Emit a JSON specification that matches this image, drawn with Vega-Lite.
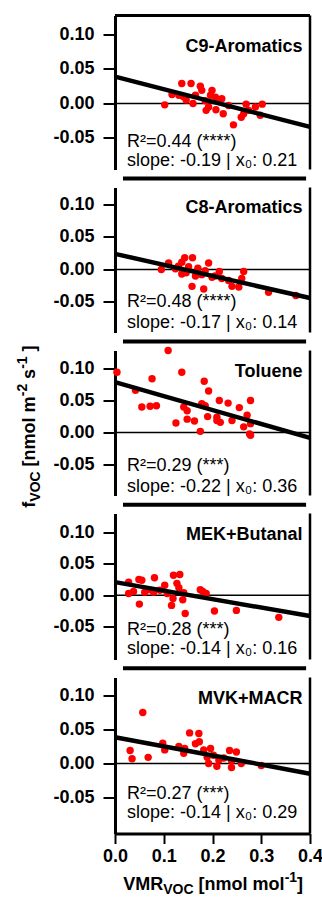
{
  "$schema": "https://vega.github.io/schema/vega-lite/v6.json",
  "padding": {"left": 16, "top": 13.5, "right": 0, "bottom": 0},
  "bounds": "flush",
  "spacing": 18,
  "config": {
    "view": {"stroke": null},
    "axis": {"grid": false, "domainColor": "black", "tickColor": "black", "labelColor": "black", "titleColor": "black", "labelFont": "Liberation Sans", "titleFont": "Liberation Sans", "labelFontSize": 18, "labelFontWeight": "bold", "titleFontSize": 18, "titleFontWeight": "bold"},
    "text": {"font": "Liberation Sans", "fontSize": 18, "color": "black"}
  },
  "datasets": {
    "one": [{}],
    "points": [
      {"panel":"C9","vmr":0.102,"f":-0.002},{"panel":"C9","vmr":0.117,"f":0.013},{"panel":"C9","vmr":0.131,"f":0.012},{"panel":"C9","vmr":0.137,"f":0.029},{"panel":"C9","vmr":0.146,"f":0.005},{"panel":"C9","vmr":0.156,"f":0.029},{"panel":"C9","vmr":0.160,"f":0.000},{"panel":"C9","vmr":0.175,"f":0.025},{"panel":"C9","vmr":0.178,"f":0.019},{"panel":"C9","vmr":0.185,"f":0.004},{"panel":"C9","vmr":0.187,"f":-0.010},{"panel":"C9","vmr":0.192,"f":-0.005},{"panel":"C9","vmr":0.196,"f":0.012},{"panel":"C9","vmr":0.199,"f":0.019},{"panel":"C9","vmr":0.206,"f":0.009},{"panel":"C9","vmr":0.207,"f":-0.009},{"panel":"C9","vmr":0.213,"f":0.004},{"panel":"C9","vmr":0.219,"f":0.007},{"panel":"C9","vmr":0.222,"f":-0.015},{"panel":"C9","vmr":0.233,"f":-0.003},{"panel":"C9","vmr":0.243,"f":-0.031},{"panel":"C9","vmr":0.259,"f":-0.020},{"panel":"C9","vmr":0.264,"f":-0.015},{"panel":"C9","vmr":0.269,"f":-0.001},{"panel":"C9","vmr":0.274,"f":-0.010},{"panel":"C9","vmr":0.288,"f":-0.005},{"panel":"C9","vmr":0.298,"f":-0.017},{"panel":"C9","vmr":0.302,"f":-0.001},{"panel":"C9","vmr":0.165,"f":0.012},{"panel":"C9","vmr":0.140,"f":0.010},
      {"panel":"C8","vmr":0.095,"f":0.000},{"panel":"C8","vmr":0.110,"f":0.010},{"panel":"C8","vmr":0.124,"f":0.001},{"panel":"C8","vmr":0.137,"f":0.011},{"panel":"C8","vmr":0.143,"f":0.018},{"panel":"C8","vmr":0.159,"f":0.018},{"panel":"C8","vmr":0.151,"f":0.004},{"panel":"C8","vmr":0.137,"f":-0.007},{"panel":"C8","vmr":0.158,"f":-0.026},{"panel":"C8","vmr":0.182,"f":-0.030},{"panel":"C8","vmr":0.192,"f":0.010},{"panel":"C8","vmr":0.185,"f":-0.002},{"panel":"C8","vmr":0.178,"f":-0.008},{"panel":"C8","vmr":0.199,"f":-0.012},{"panel":"C8","vmr":0.214,"f":-0.003},{"panel":"C8","vmr":0.219,"f":-0.014},{"panel":"C8","vmr":0.233,"f":-0.017},{"panel":"C8","vmr":0.240,"f":-0.026},{"panel":"C8","vmr":0.254,"f":-0.027},{"panel":"C8","vmr":0.260,"f":-0.014},{"panel":"C8","vmr":0.264,"f":-0.003},{"panel":"C8","vmr":0.315,"f":-0.035},{"panel":"C8","vmr":0.371,"f":-0.040},{"panel":"C8","vmr":0.130,"f":0.005},{"panel":"C8","vmr":0.146,"f":-0.005},{"panel":"C8","vmr":0.165,"f":-0.010},{"panel":"C8","vmr":0.205,"f":-0.010},{"panel":"C8","vmr":0.170,"f":0.002},
      {"panel":"TOL","vmr":0.004,"f":0.094},{"panel":"TOL","vmr":0.042,"f":0.066},{"panel":"TOL","vmr":0.055,"f":0.040},{"panel":"TOL","vmr":0.072,"f":0.041},{"panel":"TOL","vmr":0.076,"f":0.084},{"panel":"TOL","vmr":0.085,"f":0.042},{"panel":"TOL","vmr":0.109,"f":0.128},{"panel":"TOL","vmr":0.125,"f":0.015},{"panel":"TOL","vmr":0.137,"f":0.094},{"panel":"TOL","vmr":0.141,"f":0.040},{"panel":"TOL","vmr":0.148,"f":0.034},{"panel":"TOL","vmr":0.148,"f":0.021},{"panel":"TOL","vmr":0.163,"f":0.018},{"panel":"TOL","vmr":0.175,"f":0.002},{"panel":"TOL","vmr":0.178,"f":0.045},{"panel":"TOL","vmr":0.183,"f":0.080},{"panel":"TOL","vmr":0.185,"f":0.042},{"panel":"TOL","vmr":0.192,"f":0.065},{"panel":"TOL","vmr":0.190,"f":0.025},{"panel":"TOL","vmr":0.209,"f":0.024},{"panel":"TOL","vmr":0.209,"f":0.019},{"panel":"TOL","vmr":0.214,"f":0.050},{"panel":"TOL","vmr":0.216,"f":0.016},{"panel":"TOL","vmr":0.232,"f":0.046},{"panel":"TOL","vmr":0.240,"f":0.019},{"panel":"TOL","vmr":0.255,"f":0.039},{"panel":"TOL","vmr":0.264,"f":0.009},{"panel":"TOL","vmr":0.271,"f":0.027},{"panel":"TOL","vmr":0.278,"f":0.050},{"panel":"TOL","vmr":0.278,"f":0.014},{"panel":"TOL","vmr":0.276,"f":-0.002},{"panel":"TOL","vmr":0.278,"f":-0.004},
      {"panel":"MEK","vmr":0.028,"f":0.021},{"panel":"MEK","vmr":0.028,"f":0.003},{"panel":"MEK","vmr":0.038,"f":0.006},{"panel":"MEK","vmr":0.050,"f":-0.014},{"panel":"MEK","vmr":0.049,"f":0.025},{"panel":"MEK","vmr":0.055,"f":0.024},{"panel":"MEK","vmr":0.061,"f":0.005},{"panel":"MEK","vmr":0.069,"f":0.009},{"panel":"MEK","vmr":0.079,"f":0.005},{"panel":"MEK","vmr":0.081,"f":0.028},{"panel":"MEK","vmr":0.092,"f":0.008},{"panel":"MEK","vmr":0.102,"f":0.016},{"panel":"MEK","vmr":0.107,"f":0.003},{"panel":"MEK","vmr":0.116,"f":-0.016},{"panel":"MEK","vmr":0.119,"f":-0.005},{"panel":"MEK","vmr":0.120,"f":0.032},{"panel":"MEK","vmr":0.133,"f":0.033},{"panel":"MEK","vmr":0.127,"f":0.019},{"panel":"MEK","vmr":0.131,"f":0.012},{"panel":"MEK","vmr":0.141,"f":0.004},{"panel":"MEK","vmr":0.139,"f":-0.007},{"panel":"MEK","vmr":0.144,"f":-0.029},{"panel":"MEK","vmr":0.175,"f":0.009},{"panel":"MEK","vmr":0.180,"f":0.006},{"panel":"MEK","vmr":0.187,"f":0.003},{"panel":"MEK","vmr":0.204,"f":-0.025},{"panel":"MEK","vmr":0.249,"f":-0.024},{"panel":"MEK","vmr":0.336,"f":-0.035},
      {"panel":"MVK","vmr":0.031,"f":0.019},{"panel":"MVK","vmr":0.035,"f":0.007},{"panel":"MVK","vmr":0.057,"f":0.075},{"panel":"MVK","vmr":0.068,"f":0.009},{"panel":"MVK","vmr":0.098,"f":0.030},{"panel":"MVK","vmr":0.102,"f":0.020},{"panel":"MVK","vmr":0.131,"f":0.025},{"panel":"MVK","vmr":0.141,"f":0.015},{"panel":"MVK","vmr":0.143,"f":0.022},{"panel":"MVK","vmr":0.153,"f":0.045},{"panel":"MVK","vmr":0.165,"f":0.029},{"panel":"MVK","vmr":0.172,"f":0.044},{"panel":"MVK","vmr":0.173,"f":0.032},{"panel":"MVK","vmr":0.182,"f":0.020},{"panel":"MVK","vmr":0.196,"f":0.022},{"panel":"MVK","vmr":0.189,"f":0.009},{"panel":"MVK","vmr":0.192,"f":0.000},{"panel":"MVK","vmr":0.202,"f":0.012},{"panel":"MVK","vmr":0.209,"f":-0.004},{"panel":"MVK","vmr":0.213,"f":0.005},{"panel":"MVK","vmr":0.223,"f":0.008},{"panel":"MVK","vmr":0.235,"f":0.019},{"panel":"MVK","vmr":0.239,"f":-0.006},{"panel":"MVK","vmr":0.239,"f":0.004},{"panel":"MVK","vmr":0.249,"f":0.017},{"panel":"MVK","vmr":0.259,"f":0.000},{"panel":"MVK","vmr":0.300,"f":-0.003}
    ],
    "fits": [
      {"panel":"C9","vmr":0,"f":0.039},{"panel":"C9","vmr":0.4,"f":-0.034},
      {"panel":"C8","vmr":0,"f":0.024},{"panel":"C8","vmr":0.4,"f":-0.044},
      {"panel":"TOL","vmr":0,"f":0.0786},{"panel":"TOL","vmr":0.4,"f":-0.0083},
      {"panel":"MEK","vmr":0,"f":0.021},{"panel":"MEK","vmr":0.4,"f":-0.033},
      {"panel":"MVK","vmr":0,"f":0.0387},{"panel":"MVK","vmr":0.4,"f":-0.015}
    ],
    "labels": [
      {"panel":"C9","name":"C9-Aromatics","r2":"R²=0.44 (****)","slope":"slope: -0.19 | x₀: 0.21"},
      {"panel":"C8","name":"C8-Aromatics","r2":"R²=0.48 (****)","slope":"slope: -0.17 | x₀: 0.14"},
      {"panel":"TOL","name":"Toluene","r2":"R²=0.29 (***)","slope":"slope: -0.22 | x₀: 0.36"},
      {"panel":"MEK","name":"MEK+Butanal","r2":"R²=0.28 (***)","slope":"slope: -0.14 | x₀: 0.16"},
      {"panel":"MVK","name":"MVK+MACR","r2":"R²=0.27 (***)","slope":"slope: -0.14 | x₀: 0.29"}
    ],
    "ytitle": [
      {"t":"f","k":"main"},{"t":"VOC","k":"sub"},{"t":"[nmol m","k":"main2"},{"t":"-2","k":"sup1"},{"t":"s","k":"main3"},{"t":"-1","k":"sup2"},{"t":"]","k":"main4"}
    ],
    "xtitle": [
      {"t":"VMR","k":"main"},{"t":"VOC","k":"sub"},{"t":"[nmol mol","k":"main2"},{"t":"-1","k":"sup1"},{"t":"]","k":"main3"}
    ]
  },
  "vconcat": [
    {
      "width": 195, "height": 154,
      "layer": [
        {"data": {"name": "one"}, "mark": {"type": "rule", "color": "black", "strokeWidth": 1.5, "clip": false}, "encoding": {"y": {"datum": 0, "type": "quantitative", "scale": {"domain": [-0.0957, 0.1275]}, "axis": {"orient": "left", "values": [-0.05, 0, 0.05, 0.1], "format": ".2f", "labelExpr": "replace(datum.label, '−', '-')", "tickSize": 12, "tickWidth": 2, "domainWidth": 3, "labelPadding": 9, "title": null}}}},
        {"data": {"name": "one"}, "mark": {"type": "rule", "color": "black", "strokeWidth": 3, "clip": false}, "encoding": {"y": {"datum": 0.1275, "type": "quantitative", "scale": {"domain": [-0.0957, 0.1275]}, "axis": {"orient": "left", "values": [-0.05, 0, 0.05, 0.1], "format": ".2f", "labelExpr": "replace(datum.label, '−', '-')", "tickSize": 12, "tickWidth": 2, "domainWidth": 3, "labelPadding": 9, "title": null}}}},
        {"data": {"name": "one"}, "mark": {"type": "rule", "color": "black", "strokeWidth": 2.5, "clip": false}, "encoding": {"x": {"datum": 0.4, "type": "quantitative", "scale": {"domain": [0, 0.4]}, "axis": null}}},
        {"data": {"name": "points"}, "transform": [{"filter": "datum.panel === 'C9'"}],
         "mark": {"type": "circle", "size": 55, "color": "#ff0000", "opacity": 1},
         "encoding": {
           "x": {"field": "vmr", "type": "quantitative", "scale": {"domain": [0, 0.4]}, "axis": null},
           "y": {"field": "f", "type": "quantitative", "scale": {"domain": [-0.0957, 0.1275]}, "axis": {"orient": "left", "values": [-0.05, 0, 0.05, 0.1], "format": ".2f", "labelExpr": "replace(datum.label, '−', '-')", "tickSize": 12, "tickWidth": 2, "domainWidth": 3, "labelPadding": 9, "title": null}}
         }},
        {"data": {"name": "fits"}, "transform": [{"filter": "datum.panel === 'C9'"}],
         "mark": {"type": "line", "color": "black", "strokeWidth": 4.5},
         "encoding": {
           "x": {"field": "vmr", "type": "quantitative", "scale": {"domain": [0, 0.4]}, "axis": null},
           "y": {"field": "f", "type": "quantitative", "scale": {"domain": [-0.0957, 0.1275]}, "axis": {"orient": "left", "values": [-0.05, 0, 0.05, 0.1], "format": ".2f", "labelExpr": "replace(datum.label, '−', '-')", "tickSize": 12, "tickWidth": 2, "domainWidth": 3, "labelPadding": 9, "title": null}}
         }},
        {"data": {"name": "labels"}, "transform": [{"filter": "datum.panel === 'C9'"}],
         "layer": [
           {"mark": {"type": "text", "align": "right", "baseline": "alphabetic", "fontWeight": "bold", "dx": -7.5},
            "encoding": {"x": {"datum": 0.4, "type": "quantitative", "scale": {"domain": [0, 0.4]}, "axis": null}, "y": {"datum": 0.0739, "type": "quantitative", "scale": {"domain": [-0.0957, 0.1275]}, "axis": {"orient": "left", "values": [-0.05, 0, 0.05, 0.1], "format": ".2f", "labelExpr": "replace(datum.label, '−', '-')", "tickSize": 12, "tickWidth": 2, "domainWidth": 3, "labelPadding": 9, "title": null}}, "text": {"field": "name"}}},
           {"mark": {"type": "text", "align": "left", "baseline": "alphabetic", "dx": 12},
            "encoding": {"x": {"datum": 0, "type": "quantitative", "scale": {"domain": [0, 0.4]}, "axis": null}, "y": {"datum": -0.0633, "type": "quantitative", "scale": {"domain": [-0.0957, 0.1275]}, "axis": {"orient": "left", "values": [-0.05, 0, 0.05, 0.1], "format": ".2f", "labelExpr": "replace(datum.label, '−', '-')", "tickSize": 12, "tickWidth": 2, "domainWidth": 3, "labelPadding": 9, "title": null}}, "text": {"field": "r2"}}},
           {"mark": {"type": "text", "align": "left", "baseline": "alphabetic", "dx": 12},
            "encoding": {"x": {"datum": 0, "type": "quantitative", "scale": {"domain": [0, 0.4]}, "axis": null}, "y": {"datum": -0.0909, "type": "quantitative", "scale": {"domain": [-0.0957, 0.1275]}, "axis": {"orient": "left", "values": [-0.05, 0, 0.05, 0.1], "format": ".2f", "labelExpr": "replace(datum.label, '−', '-')", "tickSize": 12, "tickWidth": 2, "domainWidth": 3, "labelPadding": 9, "title": null}}, "text": {"field": "slope"}}}
         ]}
      ]
    },
    {
      "width": 195, "height": 145,
      "layer": [
        {"data": {"name": "one"}, "mark": {"type": "rule", "color": "black", "strokeWidth": 1.5, "clip": false}, "encoding": {"y": {"datum": 0, "type": "quantitative", "scale": {"domain": [-0.097, 0.126]}, "axis": {"orient": "left", "values": [-0.05, 0, 0.05, 0.1], "format": ".2f", "labelExpr": "replace(datum.label, '−', '-')", "tickSize": 12, "tickWidth": 2, "domainWidth": 3, "labelPadding": 9, "title": null}}}},
        {"data": {"name": "one"}, "mark": {"type": "rule", "color": "black", "strokeWidth": 4, "clip": false}, "encoding": {"x": {"datum": 0.0164, "type": "quantitative", "scale": {"domain": [0, 0.4]}, "axis": null}, "x2": {"datum": 0.392}, "y": {"datum": 0.140, "type": "quantitative", "scale": {"domain": [-0.097, 0.126]}, "axis": {"orient": "left", "values": [-0.05, 0, 0.05, 0.1], "format": ".2f", "labelExpr": "replace(datum.label, '−', '-')", "tickSize": 12, "tickWidth": 2, "domainWidth": 3, "labelPadding": 9, "title": null}}}},
        {"data": {"name": "one"}, "mark": {"type": "rule", "color": "black", "strokeWidth": 2.5, "clip": false}, "encoding": {"x": {"datum": 0.4, "type": "quantitative", "scale": {"domain": [0, 0.4]}, "axis": null}}},
        {"data": {"name": "points"}, "transform": [{"filter": "datum.panel === 'C8'"}],
         "mark": {"type": "circle", "size": 55, "color": "#ff0000", "opacity": 1},
         "encoding": {
           "x": {"field": "vmr", "type": "quantitative", "scale": {"domain": [0, 0.4]}, "axis": null},
           "y": {"field": "f", "type": "quantitative", "scale": {"domain": [-0.097, 0.126]}, "axis": {"orient": "left", "values": [-0.05, 0, 0.05, 0.1], "format": ".2f", "labelExpr": "replace(datum.label, '−', '-')", "tickSize": 12, "tickWidth": 2, "domainWidth": 3, "labelPadding": 9, "title": null}}
         }},
        {"data": {"name": "fits"}, "transform": [{"filter": "datum.panel === 'C8'"}],
         "mark": {"type": "line", "color": "black", "strokeWidth": 4.5},
         "encoding": {
           "x": {"field": "vmr", "type": "quantitative", "scale": {"domain": [0, 0.4]}, "axis": null},
           "y": {"field": "f", "type": "quantitative", "scale": {"domain": [-0.097, 0.126]}, "axis": {"orient": "left", "values": [-0.05, 0, 0.05, 0.1], "format": ".2f", "labelExpr": "replace(datum.label, '−', '-')", "tickSize": 12, "tickWidth": 2, "domainWidth": 3, "labelPadding": 9, "title": null}}
         }},
        {"data": {"name": "labels"}, "transform": [{"filter": "datum.panel === 'C8'"}],
         "layer": [
           {"mark": {"type": "text", "align": "right", "baseline": "alphabetic", "fontWeight": "bold", "dx": -7.5},
            "encoding": {"x": {"datum": 0.4, "type": "quantitative", "scale": {"domain": [0, 0.4]}, "axis": null}, "y": {"datum": 0.0862, "type": "quantitative", "scale": {"domain": [-0.097, 0.126]}, "axis": {"orient": "left", "values": [-0.05, 0, 0.05, 0.1], "format": ".2f", "labelExpr": "replace(datum.label, '−', '-')", "tickSize": 12, "tickWidth": 2, "domainWidth": 3, "labelPadding": 9, "title": null}}, "text": {"field": "name"}}},
           {"mark": {"type": "text", "align": "left", "baseline": "alphabetic", "dx": 12},
            "encoding": {"x": {"datum": 0, "type": "quantitative", "scale": {"domain": [0, 0.4]}, "axis": null}, "y": {"datum": -0.0585, "type": "quantitative", "scale": {"domain": [-0.097, 0.126]}, "axis": {"orient": "left", "values": [-0.05, 0, 0.05, 0.1], "format": ".2f", "labelExpr": "replace(datum.label, '−', '-')", "tickSize": 12, "tickWidth": 2, "domainWidth": 3, "labelPadding": 9, "title": null}}, "text": {"field": "r2"}}},
           {"mark": {"type": "text", "align": "left", "baseline": "alphabetic", "dx": 12},
            "encoding": {"x": {"datum": 0, "type": "quantitative", "scale": {"domain": [0, 0.4]}, "axis": null}, "y": {"datum": -0.0908, "type": "quantitative", "scale": {"domain": [-0.097, 0.126]}, "axis": {"orient": "left", "values": [-0.05, 0, 0.05, 0.1], "format": ".2f", "labelExpr": "replace(datum.label, '−', '-')", "tickSize": 12, "tickWidth": 2, "domainWidth": 3, "labelPadding": 9, "title": null}}, "text": {"field": "slope"}}}
         ]}
      ]
    },
    {
      "width": 195, "height": 145,
      "layer": [
        {"data": {"name": "one"}, "mark": {"type": "rule", "color": "black", "strokeWidth": 1.5, "clip": false}, "encoding": {"y": {"datum": 0, "type": "quantitative", "scale": {"domain": [-0.098, 0.128]}, "axis": {"orient": "left", "values": [-0.05, 0, 0.05, 0.1], "format": ".2f", "labelExpr": "replace(datum.label, '−', '-')", "tickSize": 12, "tickWidth": 2, "domainWidth": 3, "labelPadding": 9, "title": null}}}},
        {"data": {"name": "one"}, "mark": {"type": "rule", "color": "black", "strokeWidth": 4, "clip": false}, "encoding": {"x": {"datum": 0.0164, "type": "quantitative", "scale": {"domain": [0, 0.4]}, "axis": null}, "x2": {"datum": 0.392}, "y": {"datum": 0.142, "type": "quantitative", "scale": {"domain": [-0.098, 0.128]}, "axis": {"orient": "left", "values": [-0.05, 0, 0.05, 0.1], "format": ".2f", "labelExpr": "replace(datum.label, '−', '-')", "tickSize": 12, "tickWidth": 2, "domainWidth": 3, "labelPadding": 9, "title": null}}}},
        {"data": {"name": "one"}, "mark": {"type": "rule", "color": "black", "strokeWidth": 2.5, "clip": false}, "encoding": {"x": {"datum": 0.4, "type": "quantitative", "scale": {"domain": [0, 0.4]}, "axis": null}}},
        {"data": {"name": "points"}, "transform": [{"filter": "datum.panel === 'TOL'"}],
         "mark": {"type": "circle", "size": 55, "color": "#ff0000", "opacity": 1},
         "encoding": {
           "x": {"field": "vmr", "type": "quantitative", "scale": {"domain": [0, 0.4]}, "axis": null},
           "y": {"field": "f", "type": "quantitative", "scale": {"domain": [-0.098, 0.128]}, "axis": {"orient": "left", "values": [-0.05, 0, 0.05, 0.1], "format": ".2f", "labelExpr": "replace(datum.label, '−', '-')", "tickSize": 12, "tickWidth": 2, "domainWidth": 3, "labelPadding": 9, "title": null}}
         }},
        {"data": {"name": "fits"}, "transform": [{"filter": "datum.panel === 'TOL'"}],
         "mark": {"type": "line", "color": "black", "strokeWidth": 4.5},
         "encoding": {
           "x": {"field": "vmr", "type": "quantitative", "scale": {"domain": [0, 0.4]}, "axis": null},
           "y": {"field": "f", "type": "quantitative", "scale": {"domain": [-0.098, 0.128]}, "axis": {"orient": "left", "values": [-0.05, 0, 0.05, 0.1], "format": ".2f", "labelExpr": "replace(datum.label, '−', '-')", "tickSize": 12, "tickWidth": 2, "domainWidth": 3, "labelPadding": 9, "title": null}}
         }},
        {"data": {"name": "labels"}, "transform": [{"filter": "datum.panel === 'TOL'"}],
         "layer": [
           {"mark": {"type": "text", "align": "right", "baseline": "alphabetic", "fontWeight": "bold", "dx": -7.5},
            "encoding": {"x": {"datum": 0.4, "type": "quantitative", "scale": {"domain": [0, 0.4]}, "axis": null}, "y": {"datum": 0.086, "type": "quantitative", "scale": {"domain": [-0.098, 0.128]}, "axis": {"orient": "left", "values": [-0.05, 0, 0.05, 0.1], "format": ".2f", "labelExpr": "replace(datum.label, '−', '-')", "tickSize": 12, "tickWidth": 2, "domainWidth": 3, "labelPadding": 9, "title": null}}, "text": {"field": "name"}}},
           {"mark": {"type": "text", "align": "left", "baseline": "alphabetic", "dx": 12},
            "encoding": {"x": {"datum": 0, "type": "quantitative", "scale": {"domain": [0, 0.4]}, "axis": null}, "y": {"datum": -0.0594, "type": "quantitative", "scale": {"domain": [-0.098, 0.128]}, "axis": {"orient": "left", "values": [-0.05, 0, 0.05, 0.1], "format": ".2f", "labelExpr": "replace(datum.label, '−', '-')", "tickSize": 12, "tickWidth": 2, "domainWidth": 3, "labelPadding": 9, "title": null}}, "text": {"field": "r2"}}},
           {"mark": {"type": "text", "align": "left", "baseline": "alphabetic", "dx": 12},
            "encoding": {"x": {"datum": 0, "type": "quantitative", "scale": {"domain": [0, 0.4]}, "axis": null}, "y": {"datum": -0.0922, "type": "quantitative", "scale": {"domain": [-0.098, 0.128]}, "axis": {"orient": "left", "values": [-0.05, 0, 0.05, 0.1], "format": ".2f", "labelExpr": "replace(datum.label, '−', '-')", "tickSize": 12, "tickWidth": 2, "domainWidth": 3, "labelPadding": 9, "title": null}}, "text": {"field": "slope"}}}
         ]},
        {"data": {"name": "ytitle"},
         "encoding": {
           "x": {"datum": -0.164, "type": "quantitative", "scale": {"domain": [0, 0.4]}, "axis": null},
           "y": {"datum": -0.117, "type": "quantitative", "scale": {"domain": [-0.098, 0.128]}, "axis": {"orient": "left", "values": [-0.05, 0, 0.05, 0.1], "format": ".2f", "labelExpr": "replace(datum.label, '−', '-')", "tickSize": 12, "tickWidth": 2, "domainWidth": 3, "labelPadding": 9, "title": null}},
           "text": {"field": "t"}
         },
         "layer": [
           {"transform": [{"filter": "datum.k === 'main'"}], "mark": {"type": "text", "angle": 270, "align": "left", "baseline": "alphabetic", "fontWeight": "bold", "fontSize": 18}},
           {"transform": [{"filter": "datum.k === 'sub'"}], "mark": {"type": "text", "angle": 270, "align": "left", "baseline": "alphabetic", "fontWeight": "bold", "fontSize": 14, "dx": 6, "dy": 5}},
           {"transform": [{"filter": "datum.k === 'main2'"}], "mark": {"type": "text", "angle": 270, "align": "left", "baseline": "alphabetic", "fontWeight": "bold", "fontSize": 18, "dx": 41.3}},
           {"transform": [{"filter": "datum.k === 'sup1'"}], "mark": {"type": "text", "angle": 270, "align": "left", "baseline": "alphabetic", "fontWeight": "bold", "fontSize": 14, "dx": 111.5, "dy": -8}},
           {"transform": [{"filter": "datum.k === 'main3'"}], "mark": {"type": "text", "angle": 270, "align": "left", "baseline": "alphabetic", "fontWeight": "bold", "fontSize": 18, "dx": 128.7}},
           {"transform": [{"filter": "datum.k === 'sup2'"}], "mark": {"type": "text", "angle": 270, "align": "left", "baseline": "alphabetic", "fontWeight": "bold", "fontSize": 14, "dx": 138.9, "dy": -8}},
           {"transform": [{"filter": "datum.k === 'main4'"}], "mark": {"type": "text", "angle": 270, "align": "left", "baseline": "alphabetic", "fontWeight": "bold", "fontSize": 18, "dx": 156.1}}
         ]}
      ]
    },
    {
      "width": 195, "height": 146,
      "layer": [
        {"data": {"name": "one"}, "mark": {"type": "rule", "color": "black", "strokeWidth": 1.5, "clip": false}, "encoding": {"y": {"datum": 0, "type": "quantitative", "scale": {"domain": [-0.102, 0.130]}, "axis": {"orient": "left", "values": [-0.05, 0, 0.05, 0.1], "format": ".2f", "labelExpr": "replace(datum.label, '−', '-')", "tickSize": 12, "tickWidth": 2, "domainWidth": 3, "labelPadding": 9, "title": null}}}},
        {"data": {"name": "one"}, "mark": {"type": "rule", "color": "black", "strokeWidth": 4, "clip": false}, "encoding": {"x": {"datum": 0.0164, "type": "quantitative", "scale": {"domain": [0, 0.4]}, "axis": null}, "x2": {"datum": 0.392}, "y": {"datum": 0.144, "type": "quantitative", "scale": {"domain": [-0.102, 0.130]}, "axis": {"orient": "left", "values": [-0.05, 0, 0.05, 0.1], "format": ".2f", "labelExpr": "replace(datum.label, '−', '-')", "tickSize": 12, "tickWidth": 2, "domainWidth": 3, "labelPadding": 9, "title": null}}}},
        {"data": {"name": "one"}, "mark": {"type": "rule", "color": "black", "strokeWidth": 2.5, "clip": false}, "encoding": {"x": {"datum": 0.4, "type": "quantitative", "scale": {"domain": [0, 0.4]}, "axis": null}}},
        {"data": {"name": "points"}, "transform": [{"filter": "datum.panel === 'MEK'"}],
         "mark": {"type": "circle", "size": 55, "color": "#ff0000", "opacity": 1},
         "encoding": {
           "x": {"field": "vmr", "type": "quantitative", "scale": {"domain": [0, 0.4]}, "axis": null},
           "y": {"field": "f", "type": "quantitative", "scale": {"domain": [-0.102, 0.130]}, "axis": {"orient": "left", "values": [-0.05, 0, 0.05, 0.1], "format": ".2f", "labelExpr": "replace(datum.label, '−', '-')", "tickSize": 12, "tickWidth": 2, "domainWidth": 3, "labelPadding": 9, "title": null}}
         }},
        {"data": {"name": "fits"}, "transform": [{"filter": "datum.panel === 'MEK'"}],
         "mark": {"type": "line", "color": "black", "strokeWidth": 4.5},
         "encoding": {
           "x": {"field": "vmr", "type": "quantitative", "scale": {"domain": [0, 0.4]}, "axis": null},
           "y": {"field": "f", "type": "quantitative", "scale": {"domain": [-0.102, 0.130]}, "axis": {"orient": "left", "values": [-0.05, 0, 0.05, 0.1], "format": ".2f", "labelExpr": "replace(datum.label, '−', '-')", "tickSize": 12, "tickWidth": 2, "domainWidth": 3, "labelPadding": 9, "title": null}}
         }},
        {"data": {"name": "labels"}, "transform": [{"filter": "datum.panel === 'MEK'"}],
         "layer": [
           {"mark": {"type": "text", "align": "right", "baseline": "alphabetic", "fontWeight": "bold", "dx": -7.5},
            "encoding": {"x": {"datum": 0.4, "type": "quantitative", "scale": {"domain": [0, 0.4]}, "axis": null}, "y": {"datum": 0.0873, "type": "quantitative", "scale": {"domain": [-0.102, 0.130]}, "axis": {"orient": "left", "values": [-0.05, 0, 0.05, 0.1], "format": ".2f", "labelExpr": "replace(datum.label, '−', '-')", "tickSize": 12, "tickWidth": 2, "domainWidth": 3, "labelPadding": 9, "title": null}}, "text": {"field": "name"}}},
           {"mark": {"type": "text", "align": "left", "baseline": "alphabetic", "dx": 12},
            "encoding": {"x": {"datum": 0, "type": "quantitative", "scale": {"domain": [0, 0.4]}, "axis": null}, "y": {"datum": -0.0635, "type": "quantitative", "scale": {"domain": [-0.102, 0.130]}, "axis": {"orient": "left", "values": [-0.05, 0, 0.05, 0.1], "format": ".2f", "labelExpr": "replace(datum.label, '−', '-')", "tickSize": 12, "tickWidth": 2, "domainWidth": 3, "labelPadding": 9, "title": null}}, "text": {"field": "r2"}}},
           {"mark": {"type": "text", "align": "left", "baseline": "alphabetic", "dx": 12},
            "encoding": {"x": {"datum": 0, "type": "quantitative", "scale": {"domain": [0, 0.4]}, "axis": null}, "y": {"datum": -0.0937, "type": "quantitative", "scale": {"domain": [-0.102, 0.130]}, "axis": {"orient": "left", "values": [-0.05, 0, 0.05, 0.1], "format": ".2f", "labelExpr": "replace(datum.label, '−', '-')", "tickSize": 12, "tickWidth": 2, "domainWidth": 3, "labelPadding": 9, "title": null}}, "text": {"field": "slope"}}}
         ]}
      ]
    },
    {
      "width": 195, "height": 156,
      "layer": [
        {"data": {"name": "one"}, "mark": {"type": "rule", "color": "black", "strokeWidth": 1.5, "clip": false}, "encoding": {"y": {"datum": 0, "type": "quantitative", "scale": {"domain": [-0.103, 0.1265]}, "axis": {"orient": "left", "values": [-0.05, 0, 0.05, 0.1], "format": ".2f", "labelExpr": "replace(datum.label, '−', '-')", "tickSize": 12, "tickWidth": 2, "domainWidth": 3, "labelPadding": 9, "title": null}}}},
        {"data": {"name": "one"}, "mark": {"type": "rule", "color": "black", "strokeWidth": 4, "clip": false}, "encoding": {"x": {"datum": 0.0164, "type": "quantitative", "scale": {"domain": [0, 0.4]}, "axis": {"orient": "bottom", "values": [0, 0.1, 0.2, 0.3, 0.4], "format": ".1f", "labelFlush": false, "tickSize": 10, "tickWidth": 2, "domainWidth": 3, "labelPadding": 4, "title": null}}, "x2": {"datum": 0.392}, "y": {"datum": 0.140, "type": "quantitative", "scale": {"domain": [-0.103, 0.1265]}, "axis": {"orient": "left", "values": [-0.05, 0, 0.05, 0.1], "format": ".2f", "labelExpr": "replace(datum.label, '−', '-')", "tickSize": 12, "tickWidth": 2, "domainWidth": 3, "labelPadding": 9, "title": null}}}},
        {"data": {"name": "one"}, "mark": {"type": "rule", "color": "black", "strokeWidth": 2.5, "clip": false}, "encoding": {"x": {"datum": 0.4, "type": "quantitative", "scale": {"domain": [0, 0.4]}, "axis": {"orient": "bottom", "values": [0, 0.1, 0.2, 0.3, 0.4], "format": ".1f", "labelFlush": false, "tickSize": 10, "tickWidth": 2, "domainWidth": 3, "labelPadding": 4, "title": null}}}},
        {"data": {"name": "points"}, "transform": [{"filter": "datum.panel === 'MVK'"}],
         "mark": {"type": "circle", "size": 55, "color": "#ff0000", "opacity": 1},
         "encoding": {
           "x": {"field": "vmr", "type": "quantitative", "scale": {"domain": [0, 0.4]}, "axis": {"orient": "bottom", "values": [0, 0.1, 0.2, 0.3, 0.4], "format": ".1f", "labelFlush": false, "tickSize": 10, "tickWidth": 2, "domainWidth": 3, "labelPadding": 4, "title": null}},
           "y": {"field": "f", "type": "quantitative", "scale": {"domain": [-0.103, 0.1265]}, "axis": {"orient": "left", "values": [-0.05, 0, 0.05, 0.1], "format": ".2f", "labelExpr": "replace(datum.label, '−', '-')", "tickSize": 12, "tickWidth": 2, "domainWidth": 3, "labelPadding": 9, "title": null}}
         }},
        {"data": {"name": "fits"}, "transform": [{"filter": "datum.panel === 'MVK'"}],
         "mark": {"type": "line", "color": "black", "strokeWidth": 4.5},
         "encoding": {
           "x": {"field": "vmr", "type": "quantitative", "scale": {"domain": [0, 0.4]}, "axis": {"orient": "bottom", "values": [0, 0.1, 0.2, 0.3, 0.4], "format": ".1f", "labelFlush": false, "tickSize": 10, "tickWidth": 2, "domainWidth": 3, "labelPadding": 4, "title": null}},
           "y": {"field": "f", "type": "quantitative", "scale": {"domain": [-0.103, 0.1265]}, "axis": {"orient": "left", "values": [-0.05, 0, 0.05, 0.1], "format": ".2f", "labelExpr": "replace(datum.label, '−', '-')", "tickSize": 12, "tickWidth": 2, "domainWidth": 3, "labelPadding": 9, "title": null}}
         }},
        {"data": {"name": "labels"}, "transform": [{"filter": "datum.panel === 'MVK'"}],
         "layer": [
           {"mark": {"type": "text", "align": "right", "baseline": "alphabetic", "fontWeight": "bold", "dx": -7.5},
            "encoding": {"x": {"datum": 0.4, "type": "quantitative", "scale": {"domain": [0, 0.4]}, "axis": {"orient": "bottom", "values": [0, 0.1, 0.2, 0.3, 0.4], "format": ".1f", "labelFlush": false, "tickSize": 10, "tickWidth": 2, "domainWidth": 3, "labelPadding": 4, "title": null}}, "y": {"datum": 0.0882, "type": "quantitative", "scale": {"domain": [-0.103, 0.1265]}, "axis": {"orient": "left", "values": [-0.05, 0, 0.05, 0.1], "format": ".2f", "labelExpr": "replace(datum.label, '−', '-')", "tickSize": 12, "tickWidth": 2, "domainWidth": 3, "labelPadding": 9, "title": null}}, "text": {"field": "name"}}},
           {"mark": {"type": "text", "align": "left", "baseline": "alphabetic", "dx": 12},
            "encoding": {"x": {"datum": 0, "type": "quantitative", "scale": {"domain": [0, 0.4]}, "axis": {"orient": "bottom", "values": [0, 0.1, 0.2, 0.3, 0.4], "format": ".1f", "labelFlush": false, "tickSize": 10, "tickWidth": 2, "domainWidth": 3, "labelPadding": 4, "title": null}}, "y": {"datum": -0.0529, "type": "quantitative", "scale": {"domain": [-0.103, 0.1265]}, "axis": {"orient": "left", "values": [-0.05, 0, 0.05, 0.1], "format": ".2f", "labelExpr": "replace(datum.label, '−', '-')", "tickSize": 12, "tickWidth": 2, "domainWidth": 3, "labelPadding": 9, "title": null}}, "text": {"field": "r2"}}},
           {"mark": {"type": "text", "align": "left", "baseline": "alphabetic", "dx": 12},
            "encoding": {"x": {"datum": 0, "type": "quantitative", "scale": {"domain": [0, 0.4]}, "axis": {"orient": "bottom", "values": [0, 0.1, 0.2, 0.3, 0.4], "format": ".1f", "labelFlush": false, "tickSize": 10, "tickWidth": 2, "domainWidth": 3, "labelPadding": 4, "title": null}}, "y": {"datum": -0.0809, "type": "quantitative", "scale": {"domain": [-0.103, 0.1265]}, "axis": {"orient": "left", "values": [-0.05, 0, 0.05, 0.1], "format": ".2f", "labelExpr": "replace(datum.label, '−', '-')", "tickSize": 12, "tickWidth": 2, "domainWidth": 3, "labelPadding": 9, "title": null}}, "text": {"field": "slope"}}}
         ]},
        {"data": {"name": "xtitle"},
         "encoding": {
           "x": {"datum": 0.0168, "type": "quantitative", "scale": {"domain": [0, 0.4]}, "axis": {"orient": "bottom", "values": [0, 0.1, 0.2, 0.3, 0.4], "format": ".1f", "labelFlush": false, "tickSize": 10, "tickWidth": 2, "domainWidth": 3, "labelPadding": 4, "title": null}},
           "y": {"datum": -0.1868, "type": "quantitative", "scale": {"domain": [-0.103, 0.1265]}, "axis": {"orient": "left", "values": [-0.05, 0, 0.05, 0.1], "format": ".2f", "labelExpr": "replace(datum.label, '−', '-')", "tickSize": 12, "tickWidth": 2, "domainWidth": 3, "labelPadding": 9, "title": null}},
           "text": {"field": "t"}
         },
         "layer": [
           {"transform": [{"filter": "datum.k === 'main'"}], "mark": {"type": "text", "align": "left", "baseline": "alphabetic", "fontWeight": "bold", "fontSize": 18}},
           {"transform": [{"filter": "datum.k === 'sub'"}], "mark": {"type": "text", "align": "left", "baseline": "alphabetic", "fontWeight": "bold", "fontSize": 14, "dx": 40, "dy": 4}},
           {"transform": [{"filter": "datum.k === 'main2'"}], "mark": {"type": "text", "align": "left", "baseline": "alphabetic", "fontWeight": "bold", "fontSize": 18, "dx": 75.3}},
           {"transform": [{"filter": "datum.k === 'sup1'"}], "mark": {"type": "text", "align": "left", "baseline": "alphabetic", "fontWeight": "bold", "fontSize": 14, "dx": 161.5, "dy": -8}},
           {"transform": [{"filter": "datum.k === 'main3'"}], "mark": {"type": "text", "align": "left", "baseline": "alphabetic", "fontWeight": "bold", "fontSize": 18, "dx": 173.9}}
         ]}
      ]
    }
  ]
}
